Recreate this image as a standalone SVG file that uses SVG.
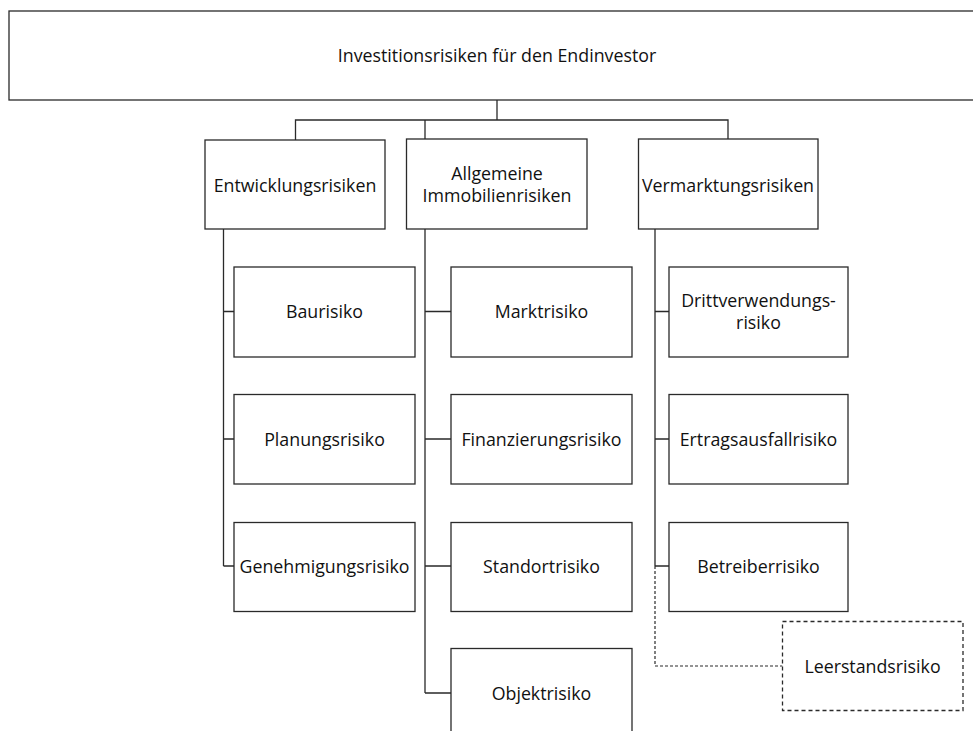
<svg xmlns="http://www.w3.org/2000/svg" width="973" height="731" viewBox="0 0 973 731">
<style>
.box{fill:#fff;stroke:#2a2a2a;stroke-width:1.3}
.dbox{fill:#fff;stroke:#2a2a2a;stroke-width:1.3;stroke-dasharray:4 3}
.ln{fill:none;stroke:#2a2a2a;stroke-width:1.3}
.dln{fill:none;stroke:#2a2a2a;stroke-width:1.2;stroke-dasharray:3 2}
text{font-family:"Open Sans","Liberation Sans",sans-serif;font-size:17.8px;fill:#111;text-anchor:middle;dominant-baseline:central}
</style>
<rect width="973" height="731" fill="#fff"/>
<g id="connectors">
<path class="ln" d="M497 100V120M295.5 140V120H728V140M425 120V139"/>
<path class="ln" d="M223.5 228V566M223.5 311.5H234M223.5 439H234M223.5 566H234"/>
<path class="ln" d="M425 228V693M425 311.5H451M425 439H451M425 566H451M425 693H451"/>
<path class="ln" d="M655 228V566M655 311.5H669M655 439H669M655 566H669"/>
<path class="dln" d="M655 566V666H782.5"/>
</g>
<g id="root"><rect class="box" x="9" y="11" width="970" height="89"/><text x="497" y="55">Investitionsrisiken für den Endinvestor</text></g>
<g id="entwicklung"><rect class="box" x="205" y="140" width="180" height="89"/><text x="295" y="185">Entwicklungsrisiken</text></g>
<g id="allgemein"><rect class="box" x="406.5" y="139" width="180.5" height="90"/><text x="497" y="173">Allgemeine</text><text x="497" y="195">Immobilienrisiken</text></g>
<g id="vermarktung"><rect class="box" x="638.5" y="139" width="179.5" height="90"/><text x="728" y="185">Vermarktungsrisiken</text></g>
<g id="baurisiko"><rect class="box" x="234" y="267" width="181" height="90"/><text x="324.5" y="311">Baurisiko</text></g>
<g id="planungsrisiko"><rect class="box" x="234" y="394.5" width="181" height="89.5"/><text x="324.5" y="439">Planungsrisiko</text></g>
<g id="genehmigungsrisiko"><rect class="box" x="234" y="522.5" width="181" height="89"/><text x="324.5" y="566">Genehmigungsrisiko</text></g>
<g id="marktrisiko"><rect class="box" x="451" y="267" width="181" height="90"/><text x="541.5" y="311">Marktrisiko</text></g>
<g id="finanzierungsrisiko"><rect class="box" x="451" y="394.5" width="181" height="89.5"/><text x="541.5" y="439">Finanzierungsrisiko</text></g>
<g id="standortrisiko"><rect class="box" x="451" y="522.5" width="181" height="89"/><text x="541.5" y="566">Standortrisiko</text></g>
<g id="objektrisiko"><rect class="box" x="451" y="648.5" width="181" height="95"/><text x="541.5" y="693">Objektrisiko</text></g>
<g id="drittverwendungsrisiko"><rect class="box" x="669" y="267" width="179" height="90"/><text x="758.5" y="300">Drittverwendungs-</text><text x="758.5" y="322">risiko</text></g>
<g id="ertragsausfallrisiko"><rect class="box" x="669" y="394.5" width="179" height="89.5"/><text x="758.5" y="439">Ertragsausfallrisiko</text></g>
<g id="betreiberrisiko"><rect class="box" x="669" y="522.5" width="179" height="89"/><text x="758.5" y="566">Betreiberrisiko</text></g>
<g id="leerstandsrisiko"><rect class="dbox" x="782.5" y="621.5" width="180.5" height="89"/><text x="872.5" y="666">Leerstandsrisiko</text></g>
</svg>
